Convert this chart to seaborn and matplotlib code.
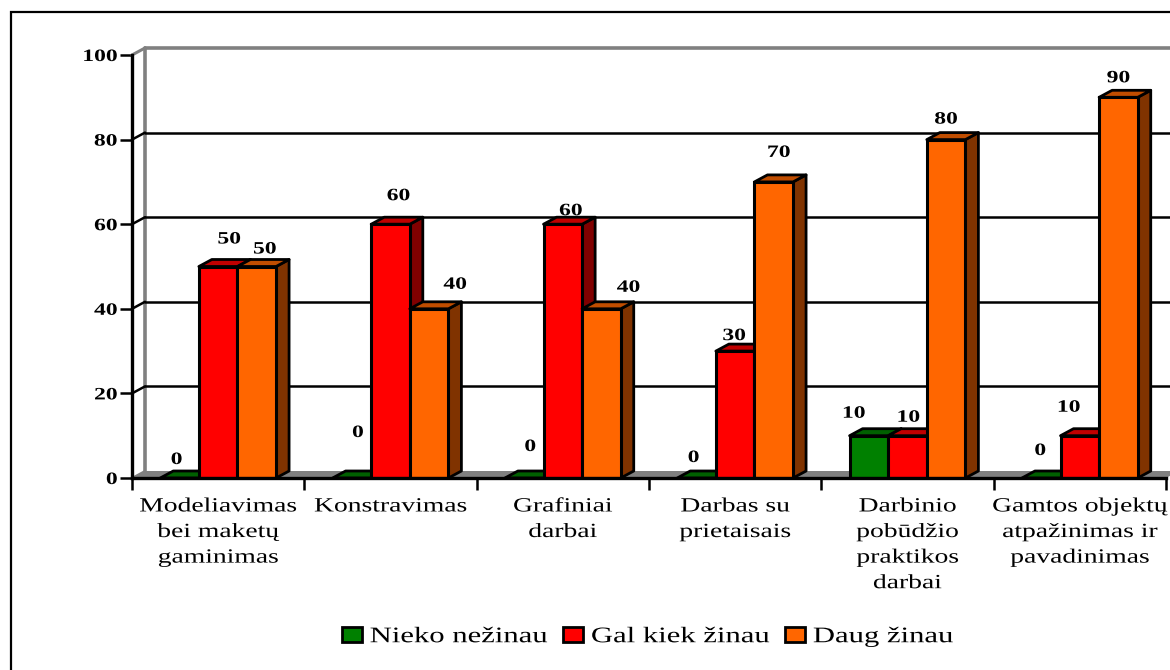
import matplotlib
matplotlib.use("Agg")
import matplotlib.patheffects as path_effects
import matplotlib.pyplot as plt
import numpy as np
import pandas as pd
import seaborn as sns
from matplotlib.patches import Patch, Polygon, Rectangle
from matplotlib.transforms import Affine2D

categories = [
    "Modeliavimas\nbei maketų\ngaminimas",
    "Konstravimas",
    "Grafiniai\ndarbai",
    "Darbas su\nprietaisais",
    "Darbinio\npobūdžio\npraktikos\ndarbai",
    "Gamtos objektų\natpažinimas ir\npavadinimas",
]
nieko = [0, 0, 0, 0, 10, 0]
gal_kiek = [50, 60, 60, 30, 10, 10]
daug = [50, 40, 40, 70, 80, 90]
series_names = ["Nieko nežinau", "Gal kiek žinau", "Daug žinau"]

W, H = 1170, 670
# front, top, side colours of the fake 3d bars
front = ["#008000", "#ff0000", "#ff6600"]
top = ["#006000", "#c00000", "#c04d00"]
side = ["#004000", "#800000", "#803300"]
# value label shifts in pixels from the top centre of each bar
label_shift = [
    [(-3, 18), (6, 45), (6, 31), (-3, 20), (-15, 22), (-1, 27)],
    [(11, 27), (8, 28), (8, 13), (-1, 15), (1, 18), (-11, 28)],
    [(8, 17), (26, 24), (27, 21), (5, 29), (0, 20), (0, 19)],
]


class Stretch(path_effects.AbstractPathEffect):
    # the reference text is wider than the font, widen it around an anchor
    def __init__(self, sx, anchor=0.5):
        super().__init__()
        self.sx = sx
        self.anchor = anchor

    def draw_path(self, renderer, gc, tpath, affine, rgbFace=None):
        ext = tpath.get_extents()
        x = ext.x0 + self.anchor * ext.width
        wide = Affine2D().translate(-x, 0).scale(self.sx, 1).translate(x, 0) + affine
        renderer.draw_path(gc, tpath, wide, rgbFace)


sns.set_style("white", {"text.color": "black", "axes.labelcolor": "black",
                        "xtick.color": "black", "ytick.color": "black"})
plt.rcParams["font.family"] = ["Liberation Serif", "DejaVu Sans"]

df = pd.DataFrame({
    "category": categories * 3,
    "value": nieko + gal_kiek + daug,
    "series": np.repeat(series_names, len(categories)),
})

fig = plt.figure(figsize=(W / 100, H / 100), dpi=100)
ax = fig.add_axes([132 / W, 1 - 478 / H, (1166 - 132) / W, (478 - 55) / H])

sns.barplot(data=df, x="category", y="value", hue="series", hue_order=series_names,
            palette=front, saturation=1, width=0.672, gap=0, edgecolor="black", linewidth=2.2,
            legend=False, ax=ax, zorder=5)
ax.set_xlim(-0.5, 5.5)
ax.set_ylim(0, 100)

# depth of the 3d effect, 13 px right and 7 px up
dx = 13 / (1034 / 6)
dy = 7 / (423 / 100)

# floor and walls
ax.add_patch(Polygon([(-0.5, 0), (-0.5 + dx, dy), (5.5 + dx, dy), (5.5, 0)],
                     facecolor="#808080", edgecolor="none", clip_on=False, zorder=2))
ax.plot([-0.5 + dx, -0.5 + dx], [dy, 100 + dy], color="#808080", lw=2.6, clip_on=False, zorder=3)
ax.plot([-0.5 + dx, 5.5 + dx], [100 + dy, 100 + dy], color="#808080", lw=2.6, clip_on=False, zorder=3)
ax.plot([-0.5, -0.5 + dx], [100, 100 + dy], color="#808080", lw=2.2, clip_on=False, zorder=3)
ax.plot([-0.5, -0.5 + dx], [0, dy], color="#808080", lw=1.5, clip_on=False, zorder=3)
for v in [20, 40, 60, 80]:
    ax.plot([-0.5 + dx, 5.5 + dx], [v + dy, v + dy], color="black", lw=1.8, clip_on=False, zorder=3)
    ax.plot([-0.5, -0.5 + dx], [v, v + dy], color="black", lw=1.8, clip_on=False, zorder=3)

# extrude every bar seaborn drew, series by series
n = len(categories)
bars = [b for b in ax.patches if isinstance(b, Rectangle)]
for i, bar in enumerate(bars):
    s = i // n
    c = i % n
    x0, w, h = bar.get_x(), bar.get_width(), bar.get_height()
    z = 5 + s + (c * 0.01)
    bar.set_zorder(z + 0.5)
    ax.add_patch(Polygon([(x0, h), (x0 + dx, h + dy), (x0 + w + dx, h + dy), (x0 + w, h)],
                         facecolor=top[s], edgecolor="black", lw=2.0, joinstyle="round",
                         clip_on=False, zorder=z + 0.2))
    if h > 0:
        ax.add_patch(Polygon([(x0 + w, 0), (x0 + w + dx, dy), (x0 + w + dx, h + dy), (x0 + w, h)],
                             facecolor=side[s], edgecolor="black", lw=2.0, joinstyle="round",
                             clip_on=False, zorder=z + 0.1))
    sx, sy = label_shift[s][c]
    label = ax.annotate(f"{h:.0f}", (x0 + w / 2, h), xytext=(sx, sy), textcoords="offset pixels",
                        ha="center", va="center", fontsize=12.5, fontweight="bold",
                        annotation_clip=False, zorder=20)
    label.set_path_effects([Stretch(1.36)])

# axes
sns.despine(ax=ax, top=True, right=True)
for name in ["left", "bottom"]:
    ax.spines[name].set_linewidth(2.4)
    ax.spines[name].set_color("black")
    ax.spines[name].set_zorder(15)
ax.set_xlabel("")
ax.set_ylabel("")
ax.set_yticks(range(0, 101, 20))
ax.tick_params(axis="y", length=8.5, width=1.8, color="black", left=True, pad=2, labelsize=12.5)
for t in ax.get_yticklabels():
    t.set_fontweight("bold")
    t.set_path_effects([Stretch(1.36, anchor=1.0)])
ax.set_xticks(np.arange(-0.5, 6), minor=True)
ax.tick_params(axis="x", which="minor", length=8.5, width=1.8, color="black", bottom=True)
ax.tick_params(axis="x", which="major", length=0, pad=14, labelsize=14.5)
for t in ax.get_xticklabels():
    t.set_linespacing(1.47)
    t.set_path_effects([Stretch(1.37)])
ax.grid(False)

# outer frame runs off the right and bottom of the picture
fig.add_artist(Rectangle((11 / W, -0.1), 1.2, 1 - 12 / H + 0.1, transform=fig.transFigure,
                         facecolor="none", edgecolor="black", lw=1.6))
handles = [Patch(facecolor=c, edgecolor="black", lw=2) for c in front]
leg = fig.legend(handles, series_names, loc="center", bbox_to_anchor=(628.5 / W, 1 - 637 / H),
                 ncol=3, frameon=False, fontsize=16, handlelength=0.9, handleheight=0.68,
                 handletextpad=0.36, columnspacing=2.89, borderpad=0, labelspacing=0)
for t in leg.get_texts():
    t.set_path_effects([Stretch(1.38, anchor=0.0)])

fig.savefig("out.png", dpi=100)
